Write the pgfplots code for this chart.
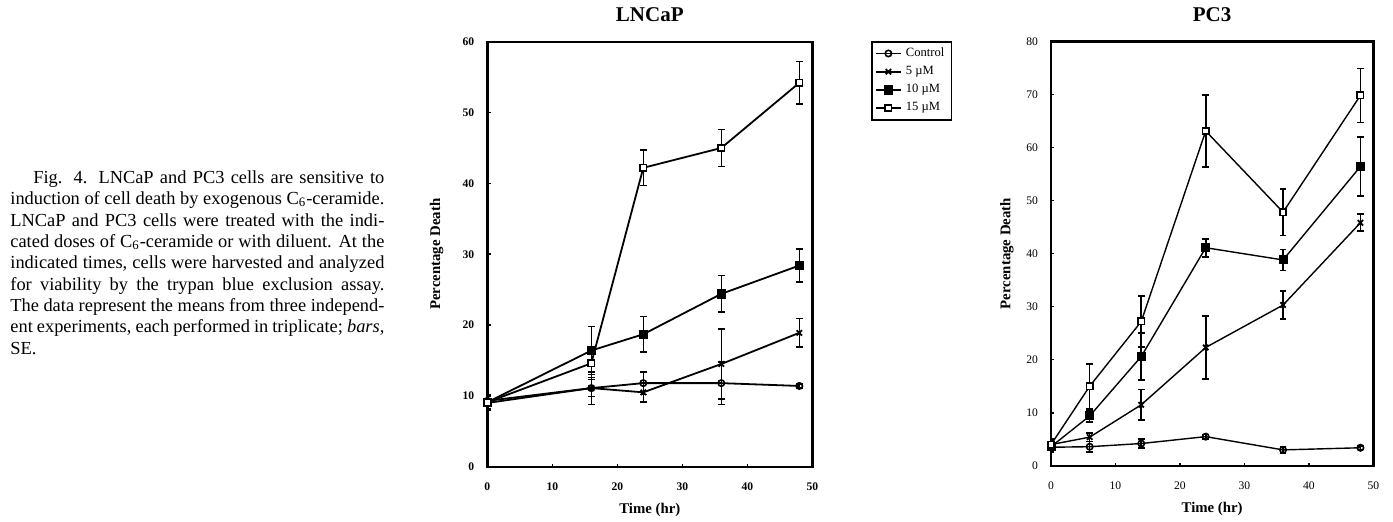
\documentclass[border=0pt]{standalone}
\usepackage{fontspec}
\setmainfont{Liberation Serif}
\usepackage{pgfplots}
\pgfplotsset{compat=1.18}

\newcommand\capline[2]{\makebox[#1][s]{#2}}

\pgfplotsset{
  cellplot/.style={
    scale only axis,
    xmin=0, xmax=50,
    xtick={0,10,...,50},
    tick pos=left,
    tick align=inside,
    major tick length=1.6pt,
    axis line style={line width=1.2pt},
    tick style={line width=0.8pt, black},
    /pgf/number format/assume math mode=true,
    label style={font=\fontsize{7.4}{9}\bfseries\selectfont},
    xlabel style={at={(axis description cs:0.5,-0.102)}, anchor=center},
    xticklabel style={yshift=-4.5pt},
    yticklabel style={xshift=-3pt},
    extra description/.code={
      \node[font=\fontsize{10.5}{12}\bfseries\selectfont, anchor=center] at (0.5,1.063) {#1};
    },
  },
  ebars/.style={
    error bars/.cd,
      y dir=both, y explicit,
      error bar style={line width=0.8pt, solid},
      error mark options={rotate=90, mark size=1.7pt, line width=0.8pt, solid},
  },
  ctrl/.style={black, line width=#1, mark=o, mark size=1.6pt, mark options={fill=white, solid, line width=0.8pt}, ebars},
  five/.style={black, line width=#1, mark=x, mark size=1.9pt, mark options={line width=0.9pt}, ebars},
  ten/.style={black, line width=#1, mark=square*, mark size=1.9pt, mark options={fill=black}, ebars},
  fifteen/.style={black, line width=#1, mark=square*, mark size=1.6pt, mark options={fill=white, line width=0.8pt}, ebars},
}

\begin{document}
\begin{tikzpicture}

% caption text on the left
\begin{scope}[every node/.style={anchor=base west, inner sep=0pt, font=\fontsize{9.2}{11}\selectfont}]
\node at (16.5pt,-91.7pt)  {\capline{175.5pt}{Fig. 4. LNCaP and PC3 cells are sensitive to}};
\node at (5pt,-102.3pt) {\capline{187pt}{induction of cell death by exogenous C\textsubscript{6}-ceramide.}};
\node at (5pt,-113.0pt) {\capline{187pt}{LNCaP and PC3 cells were treated with the indi-}};
\node at (5pt,-123.7pt) {\capline{187pt}{cated doses of C\textsubscript{6}-ceramide or with diluent. At the}};
\node at (5pt,-134.3pt) {\capline{187pt}{indicated times, cells were harvested and analyzed}};
\node at (5pt,-145.0pt) {\capline{187pt}{for viability by the trypan blue exclusion assay.}};
\node at (5pt,-155.7pt) {\capline{187pt}{The data represent the means from three independ-}};
\node at (5pt,-166.3pt) {\capline{187pt}{ent experiments, each performed in triplicate; \textit{bars,}}};
\node at (5pt,-177.0pt) {SE.};
\end{scope}

% LNCaP
\begin{axis}[cellplot=LNCaP,
  at={(243.65pt,-233.35pt)}, anchor=south west,
  width=162.5pt, height=212.5pt,
  ymin=0, ymax=60, ytick={0,10,...,60},
  ticklabel style={font=\fontsize{5.8}{7}\bfseries\selectfont},
  xlabel={Time (hr)},
  ylabel={Percentage Death},
  ylabel style={at={(axis description cs:-0.156,0.5)}, anchor=center},
  legend style={at={(1.1806,1.0024)}, anchor=north west, draw=black, line width=0.9pt,
    inner xsep=1.5pt, inner ysep=1pt, row sep=-0.6pt,
    font=\fontsize{6.3}{7.5}\selectfont,
    /tikz/every even column/.append style={column sep=0pt}},
  legend cell align=left,
  legend image code/.code={\draw[#1, line width=0.9pt, mark repeat=2, mark phase=2] plot coordinates {(0pt,0pt) (6.3pt,0pt) (12.6pt,0pt)};},
]
\addplot[ctrl=0.9pt] coordinates {
  (0,9.3) +- (0,0.8)
  (16,11.1) +- (0,1.2)
  (24,11.8) +- (0,1.6)
  (36,11.8) +- (0,3.0)
  (48,11.4) +- (0,0.3)
};
\addlegendentry{Control}
\addplot[five=0.9pt] coordinates {
  (0,9.0) +- (0,1.0)
  (16,11.1) +- (0,2.3)
  (24,10.5) +- (0,1.4)
  (36,14.5) +- (0,4.9)
  (48,18.9) +- (0,2.0)
};
\addlegendentry{5 µM}
\addplot[ten=0.9pt] coordinates {
  (0,9.1) +- (0,0.9)
  (16,16.4) +- (0,3.4)
  (24,18.7) +- (0,2.5)
  (36,24.4) +- (0,2.6)
  (48,28.4) +- (0,2.3)
};
\addlegendentry{10 µM}
\addplot[fifteen=0.9pt] coordinates {
  (0,9.1) +- (0,0.9)
  (16,14.6) +- (0,2.0)
  (24,42.2) +- (0,2.5)
  (36,45.0) +- (0,2.6)
  (48,54.2) +- (0,3.0)
};
\addlegendentry{15 µM}
\end{axis}

% PC3
\begin{axis}[cellplot=PC3,
  at={(525.5pt,-232.9pt)}, anchor=south west,
  width=161.15pt, height=212.25pt,
  ymin=0, ymax=80, ytick={0,10,...,80},
  ticklabel style={font=\fontsize{5.8}{7}\selectfont},
  xlabel={Time (hr)},
  ylabel={Percentage Death},
  ylabel style={at={(axis description cs:-0.137,0.5)}, anchor=center},
]
\addplot[ctrl=0.7pt] coordinates {
  (0,3.5) +- (0,1.0)
  (6,3.6) +- (0,1.0)
  (14,4.2) +- (0,0.9)
  (24,5.5) +- (0,0.4)
  (36,3.0) +- (0,0.6)
  (48,3.4) +- (0,0.3)
};
\addplot[five=0.7pt] coordinates {
  (0,4.0) +- (0,1.0)
  (6,5.4) +- (0,0.8)
  (14,11.5) +- (0,2.9)
  (24,22.3) +- (0,5.9)
  (36,30.3) +- (0,2.6)
  (48,45.8) +- (0,1.6)
};
\addplot[ten=0.7pt] coordinates {
  (0,3.6) +- (0,0.8)
  (6,9.4) +- (0,1.1)
  (14,20.6) +- (0,4.4)
  (24,41.1) +- (0,1.7)
  (36,38.8) +- (0,2.0)
  (48,56.4) +- (0,5.6)
};
\addplot[fifteen=0.7pt] coordinates {
  (0,4.0) +- (0,0.8)
  (6,15.0) +- (0,4.2)
  (14,27.2) +- (0,4.8)
  (24,63.1) +- (0,6.8)
  (36,47.8) +- (0,4.4)
  (48,69.8) +- (0,5.1)
};
\end{axis}

\pgfresetboundingbox
\path (0pt,0pt) rectangle (696.5pt,-260.5pt);
\end{tikzpicture}
\end{document}
